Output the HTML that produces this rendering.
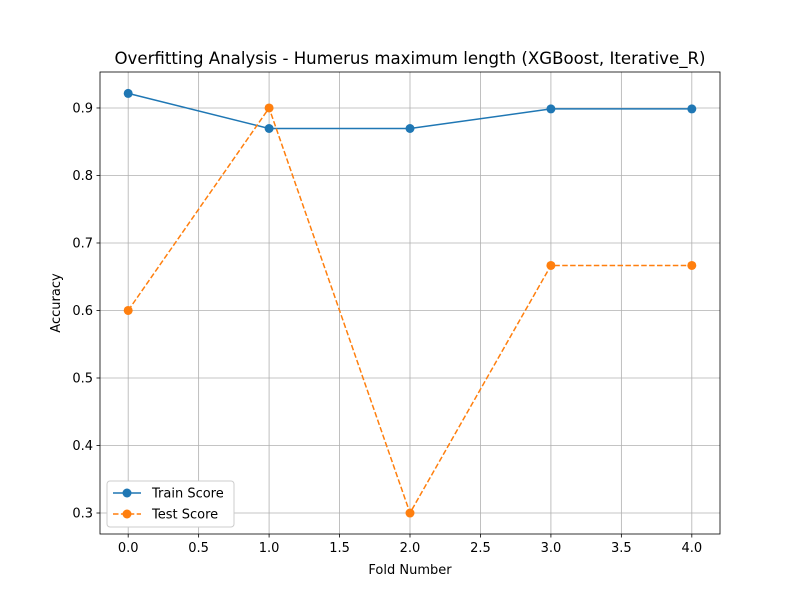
<!DOCTYPE html>
<html><head><meta charset="utf-8"><style>
body{margin:0;background:#fff;font-family:"Liberation Sans","DejaVu Sans",sans-serif;}
svg text{font-family:"DejaVu Sans","Liberation Sans",sans-serif;}
</style></head><body>
<svg id="chart" width="800" height="600">
<rect width="800" height="600" fill="#fff"/>
<g id="grid"></g>
<g id="axes"></g>
<g id="series"></g>
<text x="410" y="64" text-anchor="middle" font-size="16.6">Overfitting Analysis - Humerus maximum length (XGBoost, Iterative_R)</text>
<text x="410" y="574" text-anchor="middle" font-size="13">Fold Number</text>
<text x="60" y="303" text-anchor="middle" font-size="13" transform="rotate(-90 60 303)">Accuracy</text>
<g>
<rect x="107" y="481" width="127" height="46" fill="#fff" stroke="#ccc" rx="3"/>
<line x1="113" y1="493" x2="141" y2="493" stroke="#1f77b4" stroke-width="1.5"/>
<circle cx="127" cy="493" r="4.5" fill="#1f77b4"/>
<text x="152" y="497.5" font-size="13">Train Score</text>
<line x1="113" y1="514" x2="141" y2="514" stroke="#ff7f0e" stroke-width="1.5" stroke-dasharray="5.5,2.4"/>
<circle cx="127" cy="514" r="4.5" fill="#ff7f0e"/>
<text x="152" y="518.5" font-size="13">Test Score</text>
</g>
</svg>
<script>
const folds=[0,1,2,3,4];
const trainScores=[0.9216,0.8696,0.8696,0.8986,0.8986];
const testScores=[0.6,0.9,0.3,0.6667,0.6667];
const xTicks=[0,0.5,1,1.5,2,2.5,3,3.5,4];
const yTicks=[0.3,0.4,0.5,0.6,0.7,0.8,0.9];
const L=100,R=720,T=72,B=534,xmin=-0.2,xmax=4.2,ymin=0.2689,ymax=0.9533;
const sx=v=>L+(v-xmin)/(xmax-xmin)*(R-L);
const sy=v=>B-(v-ymin)/(ymax-ymin)*(B-T);
const NS='http://www.w3.org/2000/svg';
function mk(tag,attrs,parent){const e=document.createElementNS(NS,tag);for(const k in attrs)e.setAttribute(k,attrs[k]);parent.appendChild(e);return e;}
const grid=document.getElementById('grid'),axes=document.getElementById('axes'),series=document.getElementById('series');
xTicks.forEach(t=>{const x=sx(t);
 const g=mk('line',{x1:x,x2:x,y1:T,y2:B,stroke:'#b0b0b0','stroke-width':0.8},grid);
 
 mk('line',{x1:x,x2:x,y1:B,y2:B+3.5,stroke:'#000','stroke-width':0.8},axes);
 const tx=mk('text',{x:x,y:B+18,'text-anchor':'middle','font-size':13},axes);tx.textContent=t.toFixed(1);
 });
yTicks.forEach(t=>{const y=sy(t);
 const g=mk('line',{x1:L,x2:R,y1:y,y2:y,stroke:'#b0b0b0','stroke-width':0.8},grid);
 
 mk('line',{x1:L-3.5,x2:L,y1:y,y2:y,stroke:'#000','stroke-width':0.8},axes);
 const tx=mk('text',{x:L-7,y:y+4.5,'text-anchor':'end','font-size':13},axes);tx.textContent=t.toFixed(1);
 });
const fr=mk('rect',{x:L,y:T,width:R-L,height:B-T,fill:'none',stroke:'#000','stroke-width':0.8},axes);

function draw(vals,color,dash,name){
 const p=mk('polyline',{points:folds.map((f,i)=>sx(f)+','+sy(vals[i])).join(' '),fill:'none',stroke:color,'stroke-width':1.5,'stroke-dasharray':dash},series);
 
 folds.forEach((f,i)=>{const c=mk('circle',{cx:sx(f),cy:sy(vals[i]),r:4.5,fill:color},series);
  });
}
draw(trainScores,'#1f77b4','none','train');
draw(testScores,'#ff7f0e','5.5,2.4','test');
</script>
</body></html>
